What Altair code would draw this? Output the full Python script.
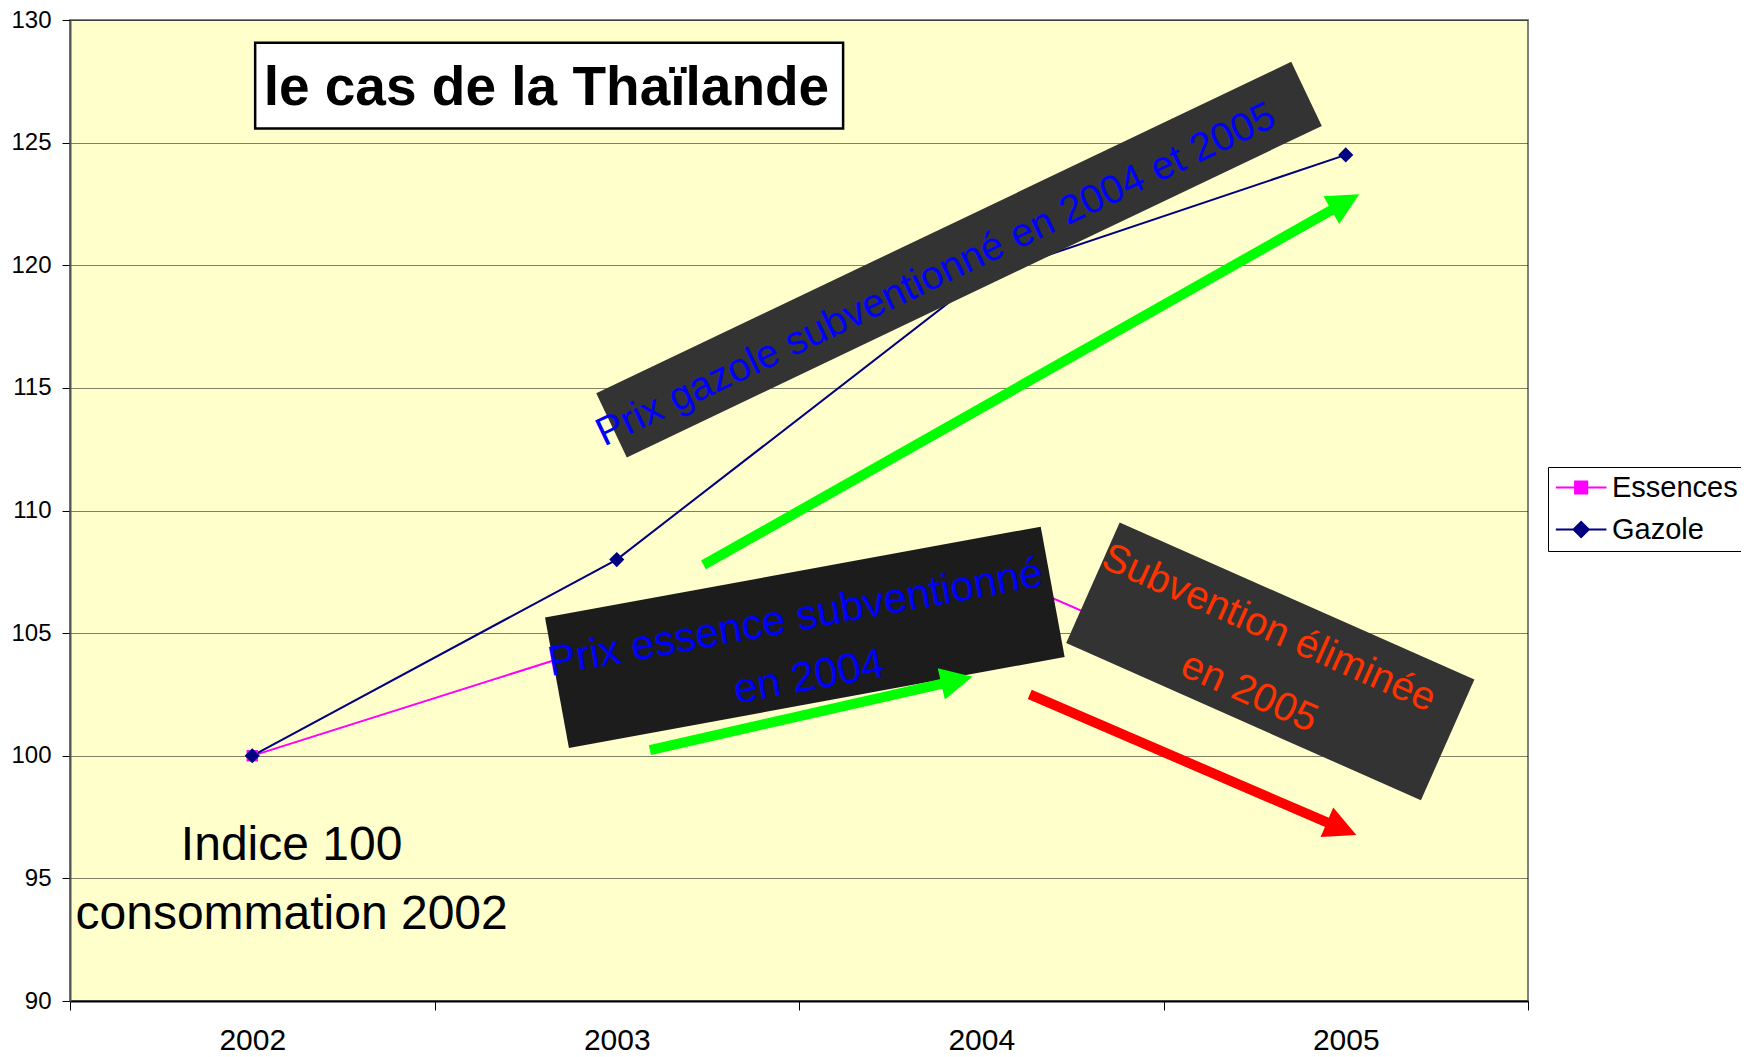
import math
import altair as alt
import pandas as pd

# ---------------- data ----------------
YEARS = [2002, 2003, 2004, 2005]
ESSENCES = [100, 104.7, 107.7, 101.2]
GAZOLE = [100, 108, 119.5, 124.5]
SERIES = ["Essences", "Gazole"]
Y_TICKS = [90, 95, 100, 105, 110, 115, 120, 125, 130]

TITLE = "le cas de la Thaïlande"
INDICE_TEXT = ["Indice 100", "consommation 2002"]
NOTE_TEXT = ["Prix gazole subventionné en 2004 et 2005",
             "Prix essence subventionné", "en 2004",
             "Subvention éliminée", "en 2005"]

# ---------------- layout / styles ----------------
W, H = 1458, 981
X_DOMAIN = [2001.5, 2005.5]
Y_DOMAIN = [90, 130]
PX_X = W / (X_DOMAIN[1] - X_DOMAIN[0])
PX_Y = H / (Y_DOMAIN[1] - Y_DOMAIN[0])
FONT = "Liberation Sans"

STYLE = {
    "Essences": {"color": "#FF00FF", "shape": "square", "size": 130},
    "Gazole": {"color": "#000080", "shape": "diamond", "size": 230},
}
LEGEND_PATHS = [
    "M-1,0L3,0M0.52,-0.48L1.48,-0.48L1.48,0.48L0.52,0.48Z",
    "M-1,0L3,0M1,-0.6L1.6,0L1,0.6L0.4,0Z",
]

# annotation geometry (x in years, y in index units)
TITLE_BOX = [2002.008, 129.07, 2003.621, 125.58]
TITLE_POS = [2002.807, 126.53]
INDICE_X = [2002.108, 2002.108]
INDICE_Y = [95.76, 92.95]

NOTE_X = [2003.890, 2003.490, 2003.527, 2004.789, 2004.735]
NOTE_Y = [119.16, 105.625, 103.211, 105.193, 102.575]
NOTE_ANGLE = [334.5, 349.6, 349.6, 23.9, 23.9]
NOTE_COLOR = ["#0000FF", "#0000FF", "#0000FF", "#FF3300", "#FF3300"]
NOTE_SIZE = [40, 42, 42, 40, 40]
NOTE_BASELINE = ["alphabetic", "middle", "middle", "middle", "middle"]

BOX_X = [2003.939, 2003.516, 2004.793]
BOX_Y = [120.23, 104.83, 103.85]
BOX_LEN = [770, 504, 388]
BOX_THICK = [71, 132.5, 132]
BOX_ANGLE = [334.5, 349.6, 23.9]
BOX_COLOR = ["#333333", "#1C1C1C", "#333333"]

ARROW_X0 = [2003.238, 2003.091, 2004.133]
ARROW_Y0 = [107.78, 100.23, 102.50]
ARROW_X1 = [2005.037, 2003.976, 2005.029]
ARROW_Y1 = [122.89, 103.22, 96.77]
ARROW_COLOR = ["#00FF00", "#00FF00", "#FF0000"]
HEAD_LEN = 32

# ---------------- tables ----------------
rows = []
for name, vals in zip(SERIES, [ESSENCES, GAZOLE]):
    for yr, v in zip(YEARS, vals):
        rows.append({"series": name, "year": yr, "value": v,
                     "color": STYLE[name]["color"], "shape": STYLE[name]["shape"],
                     "size": STYLE[name]["size"]})
series_df = pd.DataFrame(rows)

box_df = pd.DataFrame({
    "x": BOX_X, "y": BOX_Y, "angle": BOX_ANGLE, "color": BOX_COLOR,
    "size": [l * l for l in BOX_LEN],
    "path": [f"M-1,{-t / l:.4f}L1,{-t / l:.4f}L1,{t / l:.4f}L-1,{t / l:.4f}Z"
             for l, t in zip(BOX_LEN, BOX_THICK)],
})

arrow_rows = []
for x0, y0, x1, y1, c in zip(ARROW_X0, ARROW_Y0, ARROW_X1, ARROW_Y1, ARROW_COLOR):
    dxp = (x1 - x0) * PX_X
    dyp = -(y1 - y0) * PX_Y
    L = math.hypot(dxp, dyp)
    ux, uy = dxp / L, dyp / L
    back = HEAD_LEN * 0.6
    arrow_rows.append({"x0": x0, "y0": y0,
                       "xe": x1 - back * ux / PX_X, "ye": y1 + back * uy / PX_Y,
                       "x1": x1, "y1": y1, "color": c,
                       "angle": math.degrees(math.atan2(dyp, dxp)) % 360})
arrow_df = pd.DataFrame(arrow_rows)

note_df = pd.DataFrame({"x": NOTE_X, "y": NOTE_Y, "text": NOTE_TEXT, "angle": NOTE_ANGLE,
                        "color": NOTE_COLOR, "size": NOTE_SIZE, "baseline": NOTE_BASELINE})
indice_df = pd.DataFrame({"x": INDICE_X, "y": INDICE_Y, "text": INDICE_TEXT})
title_df = pd.DataFrame({"x": [TITLE_BOX[0]], "y": [TITLE_BOX[1]], "x2": [TITLE_BOX[2]],
                         "y2": [TITLE_BOX[3]], "tx": [TITLE_POS[0]], "ty": [TITLE_POS[1]],
                         "text": [TITLE]})

# ---------------- scales / axes ----------------
xs = alt.Scale(domain=X_DOMAIN, nice=False, zero=False)
ys = alt.Scale(domain=Y_DOMAIN, nice=False, zero=False)

# ticks on the category boundaries, labels shifted half a category to the centres
x_axis = alt.Axis(
    values=[X_DOMAIN[0] + i for i in range(5)],
    labelExpr="datum.value < %s ? '' + (datum.value + 0.5) : ''" % X_DOMAIN[1],
    labelOffset=PX_X / 2,
    grid=False, title=None, labelFont=FONT, labelFontSize=30, labelColor="#000000",
    labelPadding=15, tickSize=9, tickColor="#000000", tickWidth=1,
    domainColor="#000000", domainWidth=2, labelFlush=False, labelOverlap=False,
)
y_axis = alt.Axis(
    values=Y_TICKS, format="d", title=None, labelFont=FONT, labelFontSize=24,
    labelColor="#000000", labelPadding=11, tickSize=8, tickColor="#000000",
    domainColor="#555555", domainWidth=2, grid=True, gridColor="#000000",
    gridDash=[1, 1], gridWidth=1, gridOpacity=1,
)


def X(f):
    return alt.X(f, type="quantitative", scale=xs, axis=x_axis)


def Y(f):
    return alt.Y(f, type="quantitative", scale=ys, axis=y_axis)


lines = alt.Chart(series_df).mark_line(strokeWidth=2).encode(
    x=X("year"), y=Y("value"),
    detail="series:N",
    color=alt.Color("color:N", scale=None),
)
points = alt.Chart(series_df).mark_point(filled=True, opacity=1, strokeWidth=0).encode(
    x=X("year"), y=Y("value"),
    color=alt.Color("color:N", scale=None),
    shape=alt.Shape("shape:N", scale=None),
    size=alt.Size("size:Q", scale=None),
)
boxes = alt.Chart(box_df).mark_point(filled=True, opacity=1, strokeWidth=0).encode(
    x=X("x"), y=Y("y"),
    shape=alt.Shape("path:N", scale=None),
    size=alt.Size("size:Q", scale=None),
    angle=alt.Angle("angle:Q", scale=None),
    color=alt.Color("color:N", scale=None),
)


def note_layer(baseline):
    return alt.Chart(note_df).transform_filter(
        alt.datum.baseline == baseline
    ).mark_text(font=FONT, align="center", baseline=baseline).encode(
        x=X("x"), y=Y("y"), text="text:N",
        angle=alt.Angle("angle:Q", scale=None),
        color=alt.Color("color:N", scale=None),
        size=alt.Size("size:Q", scale=None),
    )


shafts = alt.Chart(arrow_df).mark_rule(strokeWidth=10, strokeCap="butt").encode(
    x=X("x0"), y=Y("y0"), x2="xe", y2="ye",
    color=alt.Color("color:N", scale=None),
)
heads = alt.Chart(arrow_df).mark_point(
    filled=True, opacity=1, strokeWidth=0, shape="M0,0L-1,-0.5L-1,0.5Z",
    size=HEAD_LEN * HEAD_LEN * 4,
).encode(
    x=X("x1"), y=Y("y1"),
    angle=alt.Angle("angle:Q", scale=None),
    color=alt.Color("color:N", scale=None),
)
title_box = alt.Chart(title_df).mark_rect(
    fill="#FFFFFF", stroke="#000000", strokeWidth=2.5
).encode(x=X("x"), y=Y("y"), x2="x2", y2="y2")
title_txt = alt.Chart(title_df).mark_text(
    font=FONT, fontWeight="bold", fontSize=55, color="#000000",
    align="center", baseline="alphabetic"
).encode(x=X("tx"), y=Y("ty"), text="text:N")
indice = alt.Chart(indice_df).mark_text(
    font=FONT, fontSize=48, color="#000000", align="center", baseline="alphabetic"
).encode(x=X("x"), y=Y("y"), text="text:N")

leg = alt.Legend(
    title=None, orient="none", legendX=1478, legendY=447,
    fillColor="#FFFFFF", strokeColor="#000000", padding=6,
    labelFont=FONT, labelFontSize=29, labelColor="#000000", labelOffset=29,
    symbolSize=640, symbolStrokeWidth=2, rowPadding=12, labelLimit=0,
)
legend_df = pd.DataFrame({"series": SERIES})
cscale = alt.Scale(domain=SERIES, range=[STYLE[s]["color"] for s in SERIES])
legend_layer = alt.Chart(legend_df).transform_filter("false").mark_point(
    filled=True, opacity=1, strokeWidth=2
).encode(
    fill=alt.Fill("series:N", scale=cscale, legend=leg),
    stroke=alt.Stroke("series:N", scale=cscale, legend=leg),
    shape=alt.Shape("series:N", scale=alt.Scale(domain=SERIES, range=LEGEND_PATHS), legend=leg),
)

chart = alt.layer(
    lines, points, boxes, note_layer("alphabetic"), note_layer("middle"), shafts, heads,
    title_box, title_txt, indice, legend_layer,
).properties(
    width=W, height=H,
    autosize=alt.AutoSizeParams(type="none"),
    padding={"left": 62, "top": 12, "right": 213, "bottom": 56},
    view=alt.ViewBackground(fill="#FFFFCC", stroke="#808080", strokeWidth=2),
).configure_view(
    fill="#FFFFCC", stroke="#808080", strokeWidth=2
)

chart.save("out.html", embed_options={"renderer": "svg", "actions": False})
